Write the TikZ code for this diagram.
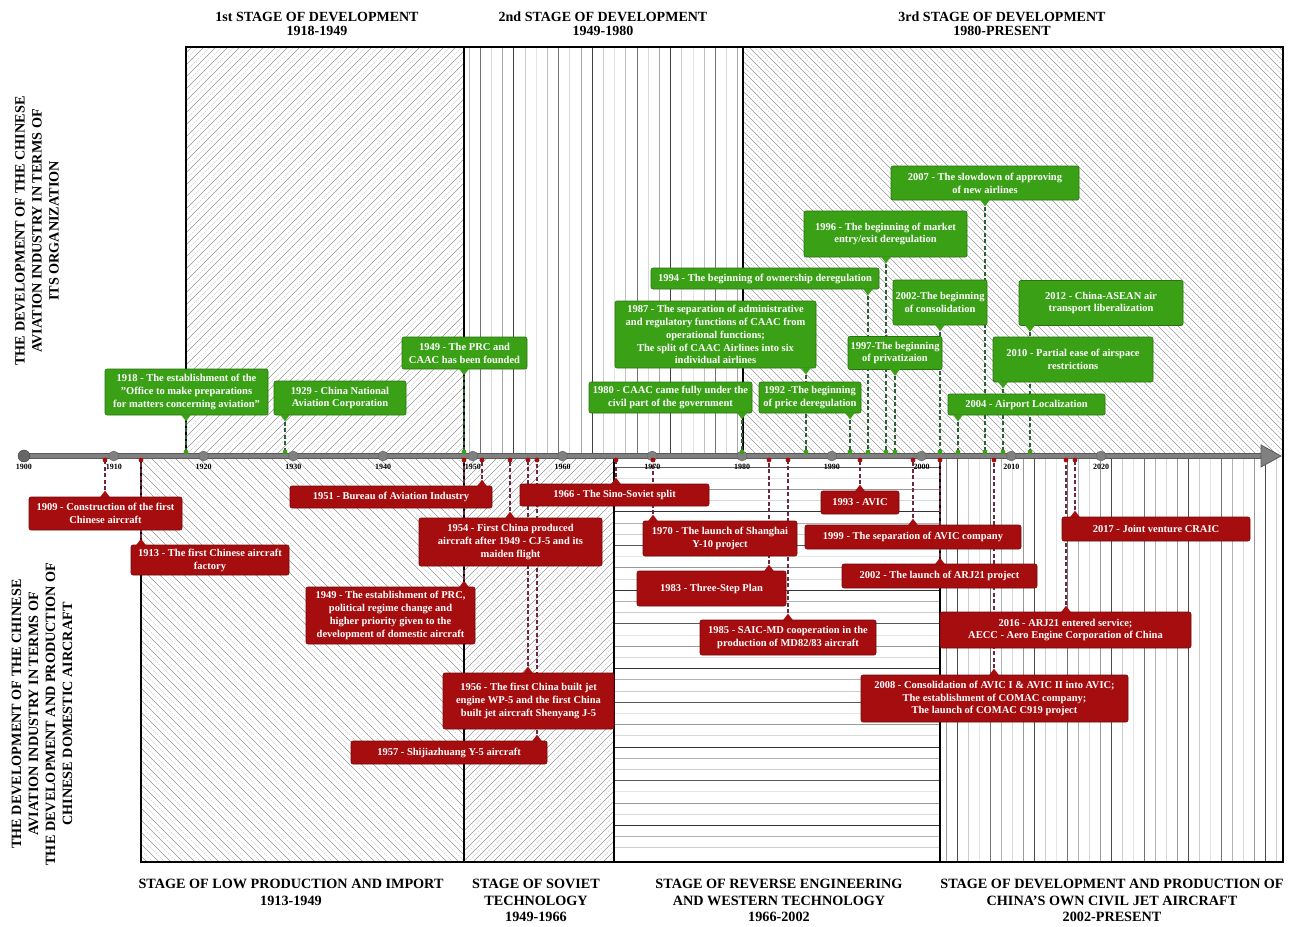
\documentclass[tikz,border=0pt]{standalone}
\usepackage{fontspec}
\setmainfont{Liberation Serif}
\usetikzlibrary{calc,positioning,arrows.meta}
\pgfdeclarelayer{hatch}
\pgfdeclarelayer{links}
\pgfsetlayers{hatch,links,main}
\definecolor{orggreen}{RGB}{58,160,22}
\definecolor{orgdark}{RGB}{45,95,55}
\definecolor{prodred}{RGB}{165,13,15}
\definecolor{proddark}{RGB}{110,40,60}
\definecolor{axisgray}{RGB}{128,128,128}
\tikzset{
   orgbox/.style={ rectangle, fill=orggreen, draw=orggreen!70!black, line width=0.6pt, rounded corners=2pt, text=white, font=\bfseries\fontsize{10.5}{12.9}\selectfont, align=center, inner sep=1pt},
   prodbox/.style={ rectangle, fill=prodred, draw=prodred!70!black, line width=0.6pt, rounded corners=2pt, text=white, font=\bfseries\fontsize{10.5}{12.9}\selectfont, align=center, inner sep=1pt},
   sz/.style 2 args={ minimum width=#1pt, minimum height=#2pt},
   orglink/.style={ orgdark, line width=1.6pt, dash pattern=on 4pt off 2.5pt},
   prodlink/.style={ proddark, line width=1.6pt, dash pattern=on 4pt off 2.5pt},
   stage/.style={ font=\bfseries\fontsize{14}{14}\selectfont, align=center},
   bottomstage/.style={ font=\bfseries\fontsize{14.2}{16.5}\selectfont, align=center, anchor=north},
   side/.style={ font=\bfseries\fontsize{14.2}{17}\selectfont, align=center, rotate=90},
   decade/.style={ circle, fill=axisgray, draw=black!60, inner sep=0pt, minimum size=10pt},
   yearlbl/.style={ font=\bfseries\fontsize{8}{9}\selectfont, inner sep=1pt},
   hatchlight/.style={ black!18, line width=0.45pt, dash pattern=on 2pt off 1pt},
   hatchdark/.style={ black!42, line width=0.5pt},
   frame/.style={ line width=1.3pt},
}
\begin{document}
\begin{tikzpicture}[x=1pt,y=-1pt]
  \useasboundingbox (0,0) rectangle (1303,926);

  \begin{pgfonlayer}{hatch}
    % upper panel
    \begin{scope}
      \clip (186,47) rectangle (464,456);
      \foreach \s in {-223,-211,...,464} \draw[hatchlight] (\s,456) -- ++(409,-409);
      \foreach \s in {-217,-205,...,464} \draw[hatchdark] (\s,456) -- ++(409,-409);
    \end{scope}
    \foreach \x [count=\n] in {469,480.2,...,740} {
      \pgfmathtruncatemacro\shade{{10,25,55,15,35,75,20}[mod(\n,7)]}
      \draw[black!\shade, line width=0.7pt] (\x,47) -- (\x,456);
    }
    \begin{scope}
      \clip (743,47) rectangle (1283,456);
      \foreach \s in {334,344,...,1283} \draw[hatchlight] (\s,47) -- ++(409,409);
      \foreach \s in {339,349,...,1283} \draw[hatchdark] (\s,47) -- ++(409,409);
    \end{scope}
    % lower panel
    \begin{scope}
      \clip (141,456) rectangle (464,862);
      \foreach \s in {-265,-253,...,464} \draw[hatchlight] (\s,456) -- ++(406,406);
      \foreach \s in {-259,-247,...,464} \draw[hatchdark] (\s,456) -- ++(406,406);
    \end{scope}
    \begin{scope}
      \clip (464,456) rectangle (614,862);
      \foreach \s in {58,68,...,614} \draw[hatchlight] (\s,862) -- ++(406,-406);
      \foreach \s in {63,73,...,614} \draw[hatchdark] (\s,862) -- ++(406,-406);
    \end{scope}
    \foreach \y [count=\n] in {467,478.2,...,858} {
      \pgfmathtruncatemacro\shade{{20,65,10,40,15,80,30}[mod(\n,7)]}
      \draw[black!\shade, line width=0.7pt] (614,\y) -- (940,\y);
    }
    \foreach \x [count=\n] in {946,957,...,1278} {
      \pgfmathtruncatemacro\shade{{15,40,70,20,10,55,30}[mod(\n,7)]}
      \draw[black!\shade, line width=0.7pt] (\x,456) -- (\x,862);
    }

    \draw[frame] (186,456) -- (186,47) -- (1283,47) -- (1283,862) -- (141,862) -- (141,456);
    \draw[frame] (464,47) -- (464,862);
    \draw[frame] (743,47) -- (743,456);
    \draw[frame] (614,456) -- (614,862);
    \draw[frame] (940,456) -- (940,862);

    % time axis
    \coordinate (axisstart) at (24,456);
    \coordinate (axisend)   at (1264,456);
    \draw[black!65, line width=5.5pt] (axisstart) -- (axisend);
    \draw[axisgray, line width=3.6pt] (axisstart) -- (axisend);
    \filldraw[fill=axisgray, draw=black!65, line width=0.8pt] (1261,445) -- (1281,456) -- (1261,467) -- cycle;
    \foreach \yr in {1910,1920,...,2020}
      \node[decade] (d\yr) at ({24+(\yr-1900)*8.975},456) {};
    \node[decade, fill=black!60, draw=black!75, minimum size=12pt] (d1900) at (axisstart) {};
    \foreach \yr in {1900,1910,...,2020}
      \node[yearlbl, below=2pt of d\yr.center, yshift=-5pt] (l\yr) {\yr};
  \end{pgfonlayer}

  % stage titles
  \node[stage] (top1) at (317,24)  {1st STAGE OF DEVELOPMENT\\1918-1949};
  \node[stage] (top2) at (603,24)  {2nd STAGE OF DEVELOPMENT\\1949-1980};
  \node[stage] (top3) at (1002,24) {3rd STAGE OF DEVELOPMENT\\1980-PRESENT};

  \node[bottomstage] (bot1) at (291,876)  {STAGE OF LOW PRODUCTION AND IMPORT\\1913-1949};
  \node[bottomstage] (bot2) at (536,876)  {STAGE OF SOVIET\\TECHNOLOGY\\1949-1966};
  \node[bottomstage] (bot3) at (779,876)  {STAGE OF REVERSE ENGINEERING\\AND WESTERN TECHNOLOGY\\1966-2002};
  \node[bottomstage] (bot4) at (1112,876) {STAGE OF DEVELOPMENT AND PRODUCTION OF\\CHINA'S OWN CIVIL JET AIRCRAFT\\2002-PRESENT};

  \node[side] (sideorg)  at (37,231) {THE DEVELOPMENT OF THE CHINESE\\AVIATION INDUSTRY IN TERMS OF\\ITS ORGANIZATION};
  \node[side] (sideprod) at (42,714) {THE DEVELOPMENT OF THE CHINESE\\AVIATION INDUSTRY IN TERMS OF\\THE DEVELOPMENT AND PRODUCTION OF\\CHINESE DOMESTIC AIRCRAFT};

  % organization events (above the axis)
  \node[orgbox, sz={163}{46}]  at (186.5,392) (o1918) {1918 - The establishment of the\\"Office to make preparations\\for matters concerning aviation"};
  \node[orgbox, sz={132}{34}]  at (340,398)   (o1929) {1929 - China National\\Aviation Corporation};
  \node[orgbox, sz={125}{32}]  at (464.5,353) (o1949) {1949 - The PRC and\\CAAC has been founded};
  \node[orgbox, sz={163}{31}]  at (670.5,397.5) (o1980) {1980 - CAAC came fully under the\\civil part of the government};
  \node[orgbox, sz={201}{67}]  at (715.5,334.5) (o1987) {1987 - The separation of administrative\\and regulatory functions of CAAC from\\operational functions;\\The split of CAAC Airlines into six\\individual airlines};
  \node[orgbox, sz={102}{31}]  at (810,397.5) (o1992) {1992 -The beginning\\of price deregulation};
  \node[orgbox, sz={228}{21}]  at (765,278.5) (o1994) {1994 - The beginning of ownership deregulation};
  \node[orgbox, sz={163}{46}]  at (885.5,234) (o1996) {1996 - The beginning of market\\entry/exit deregulation};
  \node[orgbox, sz={94}{33}]   at (895,353)   (o1997) {1997-The beginning\\of privatizaion};
  \node[orgbox, sz={94}{45}]   at (940,302.5) (o2002) {2002-The beginning\\of consolidation};
  \node[orgbox, sz={188}{34}]  at (985,183)   (o2007) {2007 - The slowdown of approving\\of new airlines};
  \node[orgbox, sz={157}{21}]  at (1026.5,404.5) (o2004) {2004 - Airport Localization};
  \node[orgbox, sz={160}{45}]  at (1073,359.5) (o2010) {2010 - Partial ease of airspace\\restrictions};
  \node[orgbox, sz={164}{45}]  at (1101,303)  (o2012) {2012 - China-ASEAN air\\transport liberalization};

  % production events (below the axis)
  \node[prodbox, sz={153}{33}] at (105.5,513.5) (p1909) {1909 - Construction of the first\\Chinese aircraft};
  \node[prodbox, sz={158}{30}] at (210,560)   (p1913) {1913 - The first Chinese aircraft\\factory};
  \node[prodbox, sz={202}{22}] at (391,497)   (p1951) {1951 - Bureau of Aviation Industry};
  \node[prodbox, sz={183}{48}] at (510.5,542) (p1954) {1954 - First China produced\\aircraft after 1949 - CJ-5 and its\\maiden flight};
  \node[prodbox, sz={169}{57}] at (390.5,615.5) (p1949) {1949 - The establishment of PRC,\\political regime change and\\higher priority given to the\\development of domestic aircraft};
  \node[prodbox, sz={171}{56}] at (528.5,701) (p1956) {1956 - The first China built jet\\engine WP-5 and the first China\\built jet aircraft Shenyang J-5};
  \node[prodbox, sz={196}{23}] at (449,752.5) (p1957) {1957 - Shijiazhuang Y-5 aircraft};
  \node[prodbox, sz={189}{22}] at (614.5,495) (p1966) {1966 - The Sino-Soviet split};
  \node[prodbox, sz={154}{35}] at (720,538.5) (p1970) {1970 - The launch of Shanghai\\Y-10 project};
  \node[prodbox, sz={149}{35}] at (711.5,588.5) (p1983) {1983 - Three-Step Plan};
  \node[prodbox, sz={176}{35}] at (788,637.5) (p1985) {1985 - SAIC-MD cooperation in the\\production of MD82/83 aircraft};
  \node[prodbox, sz={78}{23}]  at (860,502.5) (p1993) {1993 - AVIC};
  \node[prodbox, sz={216}{24}] at (913,537)   (p1999) {1999 - The separation of AVIC company};
  \node[prodbox, sz={195}{24}] at (939.5,576) (p2002) {2002 - The launch of ARJ21 project};
  \node[prodbox, sz={267}{47}] at (994.5,698.5) (p2008) {2008 - Consolidation of AVIC I \& AVIC II into AVIC;\\The establishment of COMAC company;\\The launch of COMAC C919 project};
  \node[prodbox, sz={251}{36}] at (1065.5,630) (p2016) {2016 - ARJ21 entered service;\\AECC - Aero Engine Corporation of China};
  \node[prodbox, sz={188}{24}] at (1156,529)  (p2017) {2017 - Joint venture CRAIC};

  % anchors on the axis
  \foreach \y/\x in {1918/186,1929/285,1949/464,1980/742,1987/806,1992/850,1994/868,1996/886,1997/895,2002/940,2004/958,2007/985,2010/1003,2012/1030}
    \coordinate (g\y) at (\x,452);
  \foreach \y/\x in {1909/105,1913/141,1949/464,1951/482,1954/510,1956/528,1957/537,1966/616,1970/653,1983/769,1985/788,1993/860,1999/913,2002/940,2008/994,2016/1066,2017/1075}
    \coordinate (r\y) at (\x,460);

  \foreach \y in {1918,1929,1949,1980,1987,1992,1994,1996,1997,2002,2004,2007,2010,2012} {
    \begin{pgfonlayer}{links}
      \draw[orglink] (o\y.south -| g\y) -- (g\y);
      \fill[orggreen] (g\y) circle (2.4pt);
    \end{pgfonlayer}
    \fill[orggreen] ($(o\y.south -| g\y)+(-5,-0.6)$) -- ($(o\y.south -| g\y)+(5,-0.6)$) -- ($(o\y.south -| g\y)+(0,6)$) -- cycle;
  }
  \foreach \y in {1909,1913,1949,1951,1954,1956,1957,1966,1970,1983,1985,1993,1999,2002,2008,2016,2017} {
    \begin{pgfonlayer}{links}
      \draw[prodlink] (p\y.north -| r\y) -- (r\y);
      \fill[prodred] (r\y) circle (2.4pt);
    \end{pgfonlayer}
    \fill[prodred] ($(p\y.north -| r\y)+(-5,0.6)$) -- ($(p\y.north -| r\y)+(5,0.6)$) -- ($(p\y.north -| r\y)+(0,-6)$) -- cycle;
  }
\end{tikzpicture}
\end{document}
